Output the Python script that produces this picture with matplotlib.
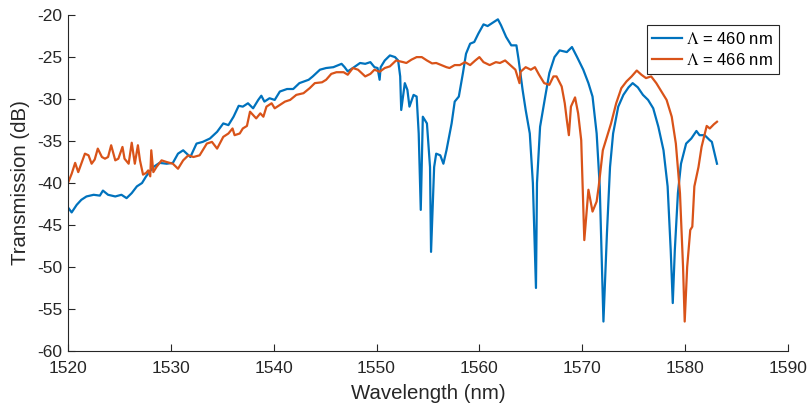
import numpy as np
import matplotlib
matplotlib.use('Agg')
from matplotlib import pyplot as plt

plt.rcParams['font.family'] = ['Liberation Sans', 'DejaVu Sans']
plt.rcParams['mathtext.fontset'] = 'stix'
plt.rcParams['axes.unicode_minus'] = False

# Lambda = 460 nm
wl_460 = [1520.0, 1520.36, 1520.85, 1521.3, 1521.8, 1522.5, 1523.1, 1523.4, 1523.9, 1524.6,
          1525.2, 1525.7, 1526.2, 1526.7, 1527.2, 1527.6, 1528.3, 1528.9, 1529.6, 1530.2,
          1530.7, 1531.2, 1531.9, 1532.5, 1533.1, 1533.8, 1534.5, 1535.1, 1535.6, 1536.1,
          1536.6, 1537.0, 1537.5, 1538.0, 1538.5, 1538.8, 1539.1, 1539.6, 1540.1, 1540.6,
          1541.3, 1541.9, 1542.5, 1543.4, 1543.8, 1544.5, 1545.1, 1545.8, 1546.6, 1546.9,
          1547.2, 1547.7, 1548.4, 1548.9, 1549.4, 1549.8, 1550.1, 1550.3, 1550.4, 1550.8,
          1551.3, 1551.8, 1552.1, 1552.3, 1552.4, 1552.75, 1553.0, 1553.2, 1553.6, 1553.9,
          1554.1, 1554.3, 1554.5, 1554.9, 1555.2, 1555.3, 1555.6, 1555.8, 1556.2, 1556.5,
          1556.8, 1557.3, 1557.6, 1558.0, 1558.4, 1558.7, 1559.1, 1559.5, 1559.9, 1560.4,
          1560.8, 1561.3, 1561.8, 1562.1, 1562.6, 1563.1, 1563.6, 1563.8, 1564.2, 1564.5,
          1564.9, 1565.2, 1565.5, 1565.6, 1565.9, 1566.4, 1566.8, 1567.3, 1567.8, 1568.5,
          1569.0, 1569.5, 1570.1, 1570.6, 1571.0, 1571.4, 1571.7, 1572.06, 1572.4, 1572.7,
          1573.0, 1573.5, 1574.0, 1574.5, 1574.9, 1575.4, 1575.9, 1576.4, 1576.9, 1577.4,
          1577.9, 1578.3, 1578.6, 1578.8, 1579.0, 1579.3, 1579.6, 1580.1, 1580.6, 1581.1,
          1581.4, 1581.9, 1582.4, 1582.6, 1583.1]
tr_460 = [-42.9, -43.5, -42.6, -42.0, -41.6, -41.4, -41.5, -40.9, -41.4, -41.6,
          -41.4, -41.8, -41.2, -40.4, -40.0, -39.2, -38.1, -37.6, -37.7, -37.6,
          -36.5, -36.1, -36.9, -35.3, -35.1, -34.7, -33.9, -32.9, -33.1, -32.1,
          -30.8, -30.9, -30.5, -31.1, -30.1, -29.6, -30.3, -29.9, -30.1, -29.1,
          -28.8, -28.8, -28.1, -27.7, -27.3, -26.5, -26.3, -26.2, -25.8, -26.2,
          -26.7, -26.3, -25.7, -25.8, -25.6, -26.2, -26.3, -27.7, -26.2, -25.4,
          -24.8, -25.0, -25.4, -27.3, -31.3, -28.1, -28.9, -30.9, -29.5, -29.7,
          -34.1, -43.2, -32.1, -32.9, -38.1, -48.2, -38.1, -36.5, -36.7, -37.7,
          -36.1, -32.9, -30.3, -29.7, -26.9, -24.6, -23.4, -23.2, -22.2, -21.1,
          -21.3, -20.9, -20.5, -21.2, -22.6, -23.6, -23.6, -25.2, -28.9, -31.3,
          -34.1, -40.0, -52.5, -40.0, -33.3, -29.7, -26.9, -25.0, -24.2, -24.4,
          -23.8, -25.0, -26.5, -28.1, -29.7, -34.1, -40.4, -56.5, -46.0, -38.1,
          -34.1, -30.9, -29.5, -28.6, -28.1, -28.6, -29.5, -30.1, -31.1, -33.3,
          -36.1, -40.4, -48.0, -54.3, -48.0, -41.2, -37.7, -35.3, -34.7, -33.8,
          -34.3, -34.3, -34.9, -35.1, -37.7]

# Lambda = 466 nm
wl_466 = [1520.0, 1520.36, 1520.7, 1521.0, 1521.3, 1521.65, 1522.0, 1522.3, 1522.6, 1522.9,
          1523.3, 1523.6, 1523.9, 1524.2, 1524.6, 1524.9, 1525.3, 1525.5, 1525.9, 1526.2,
          1526.5, 1526.8, 1527.0, 1527.3, 1527.6, 1527.8, 1528.0, 1528.1, 1528.3, 1528.6,
          1529.1, 1529.6, 1530.2, 1530.7, 1531.2, 1531.7, 1532.2, 1532.8, 1533.5, 1534.0,
          1534.5, 1535.1, 1535.6, 1536.0, 1536.2, 1536.7, 1537.0, 1537.4, 1537.7, 1538.0,
          1538.3, 1538.7, 1539.0, 1539.3, 1539.8, 1540.1, 1540.6, 1541.1, 1541.6, 1542.2,
          1542.9, 1543.5, 1544.0, 1544.7, 1545.1, 1545.6, 1546.1, 1546.8, 1547.2, 1547.7,
          1548.2, 1548.9, 1549.4, 1549.8, 1550.3, 1550.8, 1551.3, 1551.9, 1552.6, 1552.9,
          1553.4, 1553.9, 1554.4, 1554.9, 1555.4, 1555.8, 1556.3, 1556.8, 1557.1, 1557.6,
          1558.1, 1558.6, 1559.1, 1559.6, 1560.0, 1560.4, 1561.0, 1561.6, 1562.0, 1562.5,
          1563.0, 1563.5, 1563.9, 1564.0, 1564.5, 1565.0, 1565.4, 1565.8, 1566.3, 1566.8,
          1567.2, 1567.5, 1568.0, 1568.3, 1568.5, 1568.7, 1568.9, 1569.3, 1569.6, 1569.9,
          1570.2, 1570.6, 1571.0, 1571.4, 1571.6, 1572.0, 1572.4, 1572.8, 1573.3, 1573.8,
          1574.3, 1574.8, 1575.3, 1575.75, 1576.2, 1576.7, 1577.2, 1577.7, 1578.2, 1578.7,
          1579.1, 1579.5, 1579.8, 1579.96, 1580.2, 1580.5, 1580.7, 1580.9, 1581.3, 1581.6,
          1582.1, 1582.4, 1582.8, 1583.1]
tr_466 = [-40.0, -38.9, -37.6, -38.7, -37.7, -36.5, -36.7, -37.7, -37.2, -35.9,
          -36.9, -37.1, -36.9, -35.5, -37.3, -37.1, -35.7, -37.1, -37.7, -35.2,
          -37.7, -35.5, -37.3, -39.0, -38.8, -38.5, -39.2, -36.1, -38.7, -38.1,
          -37.3, -37.5, -37.7, -38.3, -37.3, -36.7, -36.9, -36.7, -35.3, -35.1,
          -35.9, -34.5, -34.1, -33.5, -34.3, -34.1, -33.5, -33.2, -31.5, -31.9,
          -32.3, -31.7, -32.1, -30.9, -30.5, -31.1, -30.7, -30.3, -30.1, -29.5,
          -29.3, -28.7, -28.1, -28.0, -27.7, -27.0, -26.8, -26.8, -27.1, -26.3,
          -26.5, -27.3, -27.0, -26.5, -26.75, -26.3, -26.1, -25.4, -25.6, -25.7,
          -25.3, -25.0, -25.0, -25.4, -25.75, -25.7, -25.95, -26.2, -26.3, -25.95,
          -25.95, -25.6, -25.95, -25.4, -25.0, -25.6, -25.95, -25.6, -25.7, -25.4,
          -25.95, -26.5, -28.1, -26.75, -26.2, -26.5, -26.2, -27.1, -28.1, -28.3,
          -27.3, -27.3, -28.5, -30.5, -32.5, -34.3, -30.9, -29.8, -31.7, -34.9,
          -46.8, -40.8, -43.4, -42.2, -40.4, -36.1, -34.5, -32.9, -30.5, -28.7,
          -27.9, -27.3, -26.6, -27.1, -27.5, -27.3, -28.1, -29.1, -30.1, -32.1,
          -35.3, -41.2, -50.0, -56.5, -50.0, -45.6, -45.2, -40.4, -38.1, -35.7,
          -33.2, -33.5, -33.0, -32.7]

blue = '#0072BD'
orange = '#D95319'
axis_col = '#262626'

fig = plt.figure(figsize=(8.09, 4.09), dpi=100)
ax = fig.add_axes([0.084, 0.142, 0.89, 0.821])

ax.plot(wl_460, tr_460, color=blue, lw=1.6, label=r'$\Lambda$ = 460 nm')
ax.plot(wl_466, tr_466, color=orange, lw=1.6, label=r'$\Lambda$ = 466 nm')

ax.set_xlim(1520, 1590)
ax.set_ylim(-60, -20)
ax.set_xticks(np.arange(1520, 1591, 10))
ax.set_yticks(np.arange(-60, -19, 5))

for side in ['top', 'right']:
    ax.spines[side].set_visible(False)
for side in ['left', 'bottom']:
    ax.spines[side].set_color(axis_col)
    ax.spines[side].set_linewidth(0.8)
ax.tick_params(direction='in', length=5, width=0.8, colors=axis_col, labelsize=12.5)
ax.tick_params(axis='x', pad=7)
ax.tick_params(axis='y', pad=4)

ax.set_xlabel('Wavelength (nm)', fontsize=14.7, color=axis_col, labelpad=6)
ax.set_ylabel('Transmission (dB)', fontsize=14.7, color=axis_col, labelpad=5)

leg = ax.legend(loc='upper right', bbox_to_anchor=(0.987, 0.97), fontsize=12,
                handlelength=1.75, handletextpad=0.25, borderpad=0.35, labelspacing=0.3,
                fancybox=False, framealpha=1, edgecolor=axis_col, borderaxespad=0)
leg.get_frame().set_linewidth(0.8)

fig.savefig('out.png', dpi=100)
